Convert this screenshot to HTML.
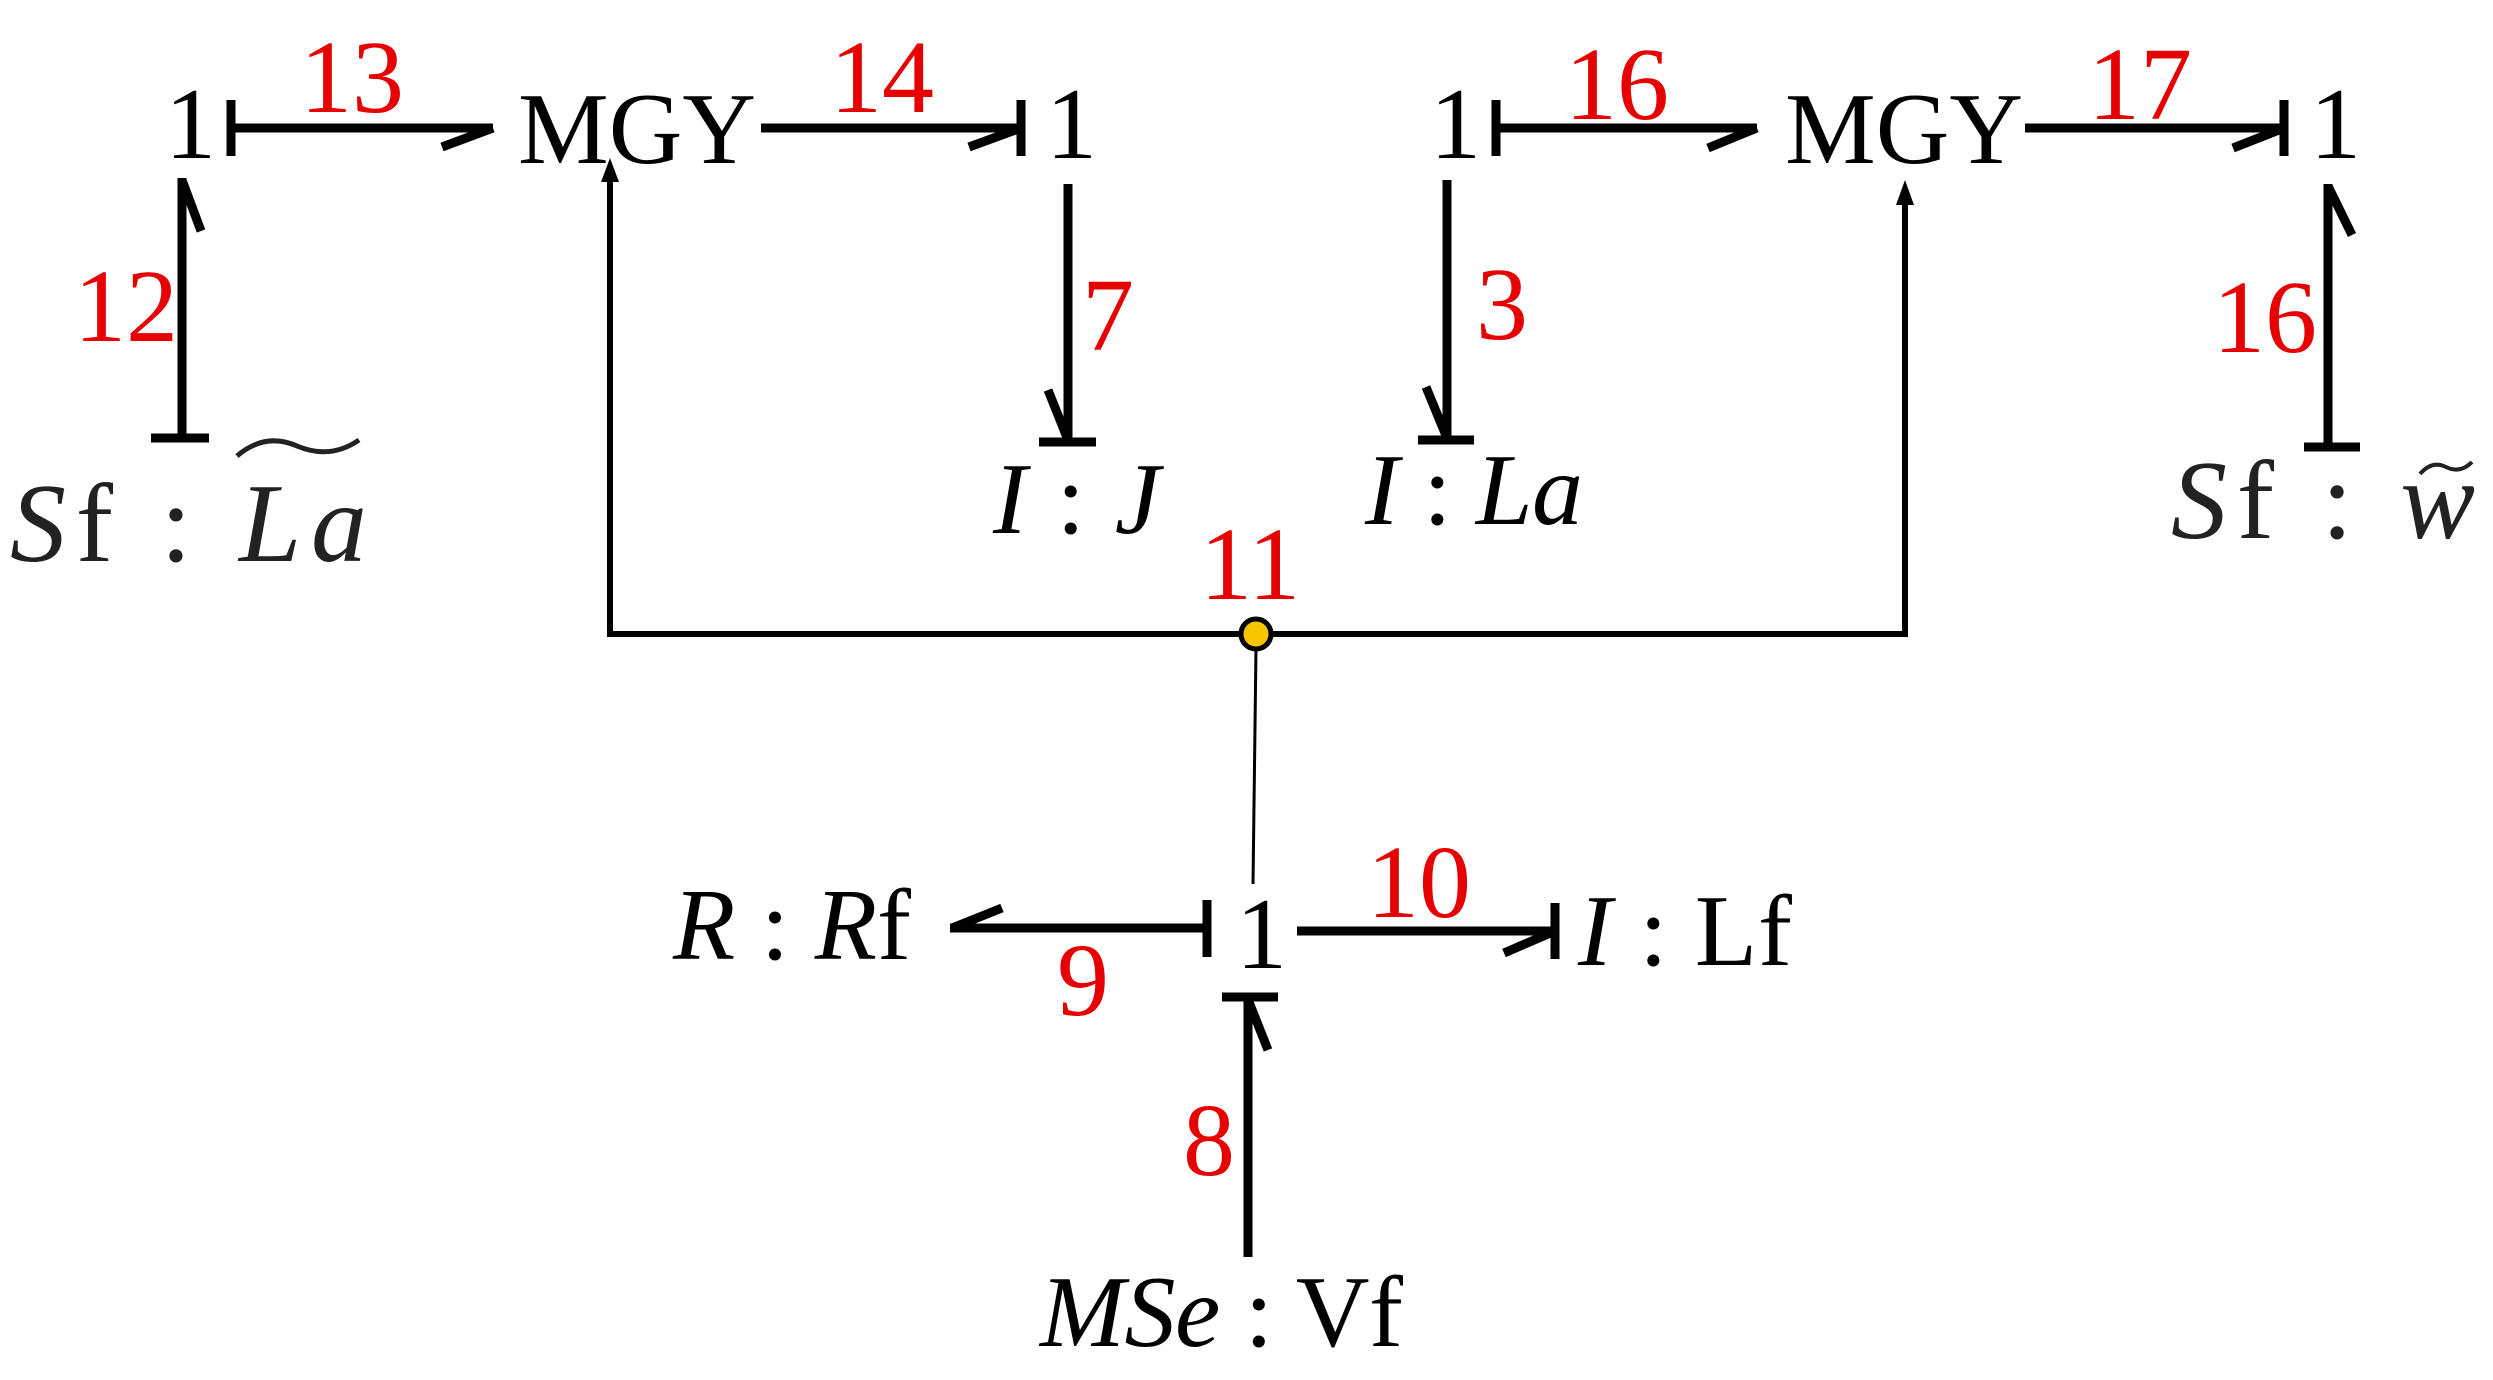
<!DOCTYPE html>
<html><head><meta charset="utf-8"><style>html,body{margin:0;padding:0;background:#fff}svg{display:block}</style></head>
<body>
<svg width="2493" height="1380" viewBox="0 0 2493 1380" xmlns="http://www.w3.org/2000/svg" font-family="'Liberation Serif', serif">
<g stroke="#000" fill="none" stroke-width="9">
<line x1="231" y1="100" x2="231" y2="156"/>
<line x1="231" y1="128" x2="493" y2="128"/>
<line x1="493" y1="128" x2="442" y2="147"/>
<line x1="761" y1="128" x2="1021" y2="128"/>
<line x1="1021" y1="100" x2="1021" y2="156"/>
<line x1="1021" y1="128" x2="969" y2="147"/>
<line x1="182" y1="178" x2="182" y2="438"/>
<line x1="151" y1="438" x2="209" y2="438"/>
<line x1="182" y1="180" x2="201" y2="231"/>
<line x1="1068" y1="184" x2="1068" y2="442"/>
<line x1="1039" y1="442" x2="1096" y2="442"/>
<line x1="1068" y1="440" x2="1048" y2="390"/>
<line x1="1496" y1="100" x2="1496" y2="156"/>
<line x1="1496" y1="128" x2="1757" y2="128"/>
<line x1="1757" y1="128" x2="1708" y2="148"/>
<line x1="2025" y1="128" x2="2284" y2="128"/>
<line x1="2284" y1="100" x2="2284" y2="156"/>
<line x1="2284" y1="128" x2="2233" y2="148"/>
<line x1="1447" y1="180" x2="1447" y2="440"/>
<line x1="1418" y1="440" x2="1474" y2="440"/>
<line x1="1447" y1="438" x2="1426" y2="387"/>
<line x1="2328" y1="184" x2="2328" y2="447"/>
<line x1="2304" y1="447" x2="2360" y2="447"/>
<line x1="2328" y1="186" x2="2352" y2="235"/>
<line x1="1207" y1="900" x2="1207" y2="957"/>
<line x1="1207" y1="928" x2="950" y2="928"/>
<line x1="952" y1="928" x2="1002" y2="908"/>
<line x1="1297" y1="931" x2="1555" y2="931"/>
<line x1="1555" y1="903" x2="1555" y2="959"/>
<line x1="1555" y1="931" x2="1504" y2="953"/>
<line x1="1248" y1="1257" x2="1248" y2="997"/>
<line x1="1222" y1="997" x2="1278" y2="997"/>
<line x1="1249" y1="1002" x2="1268" y2="1050"/>
</g>
<polyline points="610,178 610,634 1905,634 1905,200" stroke="#000" stroke-width="6" fill="none"/>
<polygon points="610,158 601,182 619,182" fill="#000"/>
<polygon points="1905,180 1896,205 1914,205" fill="#000"/>
<line x1="1256" y1="648" x2="1253" y2="884" stroke="#000" stroke-width="3"/>
<circle cx="1256" cy="634" r="15" fill="#f7c600" stroke="#000" stroke-width="5"/>

<g font-size="102" fill="#000">
<text x="165" y="158">1</text>
<text x="518" y="163">MGY</text>
<text x="1046" y="158">1</text>
<text x="1430" y="158">1</text>
<text x="1785" y="163">MGY</text>
<text x="2310" y="158">1</text>
<text x="1236" y="968">1</text>
<text x="993" y="533" textLength="167"><tspan font-style="italic">I</tspan> : <tspan font-style="italic">J</tspan></text>
<text x="1365" y="524" textLength="218"><tspan font-style="italic">I</tspan> : <tspan font-style="italic">La</tspan></text>
<text x="673" y="959" textLength="238"><tspan font-style="italic">R</tspan> : <tspan font-style="italic">R</tspan>f</text>
<text x="1578" y="965" textLength="214"><tspan font-style="italic">I</tspan> : Lf</text>
<text x="1040" y="1346" textLength="363"><tspan font-style="italic">MSe</tspan> : Vf</text>
</g>
<g font-size="112" fill="#222">
<text x="10" y="561" textLength="357" lengthAdjust="spacing"><tspan font-style="italic">S</tspan>f : <tspan font-style="italic">La</tspan></text>
<text x="2171" y="538" textLength="304" lengthAdjust="spacing"><tspan font-style="italic">S</tspan>f : <tspan font-style="italic">w</tspan></text>
</g>
<path d="M237,456 Q265,432 297,446 Q330,460 359,440" stroke="#222" stroke-width="5" fill="none"/>
<path d="M2420,474 Q2432,460 2446,467 Q2460,474 2472,462" stroke="#222" stroke-width="4" fill="none"/>

<g font-size="104" fill="#e60000">
<text x="300" y="112">13</text>
<text x="830" y="112">14</text>
<text x="74" y="341">12</text>
<text x="1082" y="350">7</text>
<text x="1565" y="119">16</text>
<text x="2088" y="119">17</text>
<text x="1476" y="339">3</text>
<text x="2213" y="352">16</text>
<text x="1200" y="599">11</text>
<text x="1057" y="1015">9</text>
<text x="1367" y="917">10</text>
<text x="1183" y="1175">8</text>
</g>
</svg>
</body></html>
